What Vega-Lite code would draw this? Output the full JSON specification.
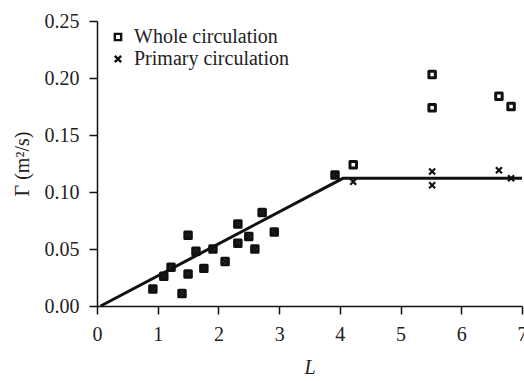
{
  "$schema": "https://vega.github.io/schema/vega-lite/v6.json",
  "autosize": "none",
  "width": 425,
  "height": 285,
  "padding": {"left": 97, "top": 21, "right": 2, "bottom": 75},
  "background": "white",
  "config": {
    "view": {"stroke": null},
    "font": "Liberation Serif",
    "axis": {
      "domainColor": "#111",
      "domainWidth": 1.5,
      "tickColor": "#111",
      "tickWidth": 1.5,
      "tickSize": 8,
      "grid": false,
      "labelFont": "Liberation Serif",
      "labelFontSize": 20,
      "labelColor": "#222",
      "labelOverlap": false,
      "labelFlush": false,
      "titleFont": "Liberation Serif",
      "titleFontSize": 20,
      "titleColor": "#222",
      "titleFontWeight": "normal"
    }
  },
  "datasets": {
    "points": [
      {"L": 0.92, "G": 0.015, "series": "Whole circulation"},
      {"L": 1.10, "G": 0.026, "series": "Whole circulation"},
      {"L": 1.22, "G": 0.034, "series": "Whole circulation"},
      {"L": 1.40, "G": 0.011, "series": "Whole circulation"},
      {"L": 1.50, "G": 0.062, "series": "Whole circulation"},
      {"L": 1.50, "G": 0.028, "series": "Whole circulation"},
      {"L": 1.63, "G": 0.048, "series": "Whole circulation"},
      {"L": 1.76, "G": 0.033, "series": "Whole circulation"},
      {"L": 1.91, "G": 0.050, "series": "Whole circulation"},
      {"L": 2.11, "G": 0.039, "series": "Whole circulation"},
      {"L": 2.32, "G": 0.072, "series": "Whole circulation"},
      {"L": 2.32, "G": 0.055, "series": "Whole circulation"},
      {"L": 2.50, "G": 0.061, "series": "Whole circulation"},
      {"L": 2.60, "G": 0.050, "series": "Whole circulation"},
      {"L": 2.72, "G": 0.082, "series": "Whole circulation"},
      {"L": 2.92, "G": 0.065, "series": "Whole circulation"},
      {"L": 3.92, "G": 0.115, "series": "Whole circulation"},
      {"L": 4.22, "G": 0.124, "series": "Whole circulation"},
      {"L": 5.52, "G": 0.203, "series": "Whole circulation"},
      {"L": 5.52, "G": 0.174, "series": "Whole circulation"},
      {"L": 6.62, "G": 0.184, "series": "Whole circulation"},
      {"L": 6.82, "G": 0.175, "series": "Whole circulation"},
      {"L": 0.92, "G": 0.015, "series": "Primary circulation"},
      {"L": 1.10, "G": 0.026, "series": "Primary circulation"},
      {"L": 1.22, "G": 0.034, "series": "Primary circulation"},
      {"L": 1.40, "G": 0.011, "series": "Primary circulation"},
      {"L": 1.50, "G": 0.062, "series": "Primary circulation"},
      {"L": 1.50, "G": 0.028, "series": "Primary circulation"},
      {"L": 1.63, "G": 0.048, "series": "Primary circulation"},
      {"L": 1.76, "G": 0.033, "series": "Primary circulation"},
      {"L": 1.91, "G": 0.050, "series": "Primary circulation"},
      {"L": 2.11, "G": 0.039, "series": "Primary circulation"},
      {"L": 2.32, "G": 0.072, "series": "Primary circulation"},
      {"L": 2.32, "G": 0.055, "series": "Primary circulation"},
      {"L": 2.50, "G": 0.061, "series": "Primary circulation"},
      {"L": 2.60, "G": 0.050, "series": "Primary circulation"},
      {"L": 2.72, "G": 0.082, "series": "Primary circulation"},
      {"L": 2.92, "G": 0.065, "series": "Primary circulation"},
      {"L": 3.92, "G": 0.115, "series": "Primary circulation"},
      {"L": 4.22, "G": 0.109, "series": "Primary circulation"},
      {"L": 5.52, "G": 0.118, "series": "Primary circulation"},
      {"L": 5.52, "G": 0.106, "series": "Primary circulation"},
      {"L": 6.62, "G": 0.119, "series": "Primary circulation"},
      {"L": 6.82, "G": 0.112, "series": "Primary circulation"}
    ],
    "fit": [
      {"L": 0.06, "G": 0.0},
      {"L": 4.05, "G": 0.112},
      {"L": 7.0, "G": 0.112}
    ]
  },
  "layer": [
    {
      "data": {"name": "fit"},
      "mark": {"type": "line", "color": "#111", "strokeWidth": 3},
      "encoding": {
        "x": {"field": "L", "type": "quantitative"},
        "y": {"field": "G", "type": "quantitative"}
      }
    },
    {
      "data": {"name": "points"},
      "transform": [{"filter": "datum.series === 'Whole circulation'"}],
      "mark": {"type": "point", "filled": false, "strokeWidth": 3, "size": 42, "strokeJoin": "round", "opacity": 1},
      "encoding": {
        "x": {"field": "L", "type": "quantitative"},
        "y": {"field": "G", "type": "quantitative"},
        "shape": {"field": "series", "type": "nominal"},
        "color": {"value": "#111"}
      }
    },
    {
      "data": {"name": "points"},
      "transform": [{"filter": "datum.series === 'Primary circulation'"}],
      "mark": {"type": "point", "filled": false, "strokeWidth": 2.2, "size": 36, "opacity": 1},
      "encoding": {
        "x": {
          "field": "L", "type": "quantitative",
          "scale": {"domain": [0, 7], "nice": false},
          "axis": {"title": "L", "titleFontStyle": "italic", "values": [0,1,2,3,4,5,6,7], "format": "d", "labelPadding": 10, "titlePadding": 13}
        },
        "y": {
          "field": "G", "type": "quantitative",
          "scale": {"domain": [0, 0.25], "nice": false},
          "axis": {"title": "Γ (m²/s)", "values": [0, 0.05, 0.1, 0.15, 0.2, 0.25], "format": ".2f", "labelPadding": 10, "titlePadding": 12}
        },
        "shape": {
          "field": "series", "type": "nominal",
          "scale": {
            "domain": ["Whole circulation", "Primary circulation"],
            "range": ["square", "M-1,-1L1,1M-1,1L1,-1"]
          },
          "legend": {
            "orient": "none",
            "legendX": 11,
            "legendY": 6,
            "title": null,
            "labelFont": "Liberation Serif",
            "labelFontSize": 20,
            "labelColor": "#222",
            "symbolStrokeColor": "#111",
            "symbolStrokeWidth": 2.4,
            "symbolSize": 40,
            "symbolFillColor": "transparent",
            "rowPadding": 2,
            "labelOffset": 6
          }
        },
        "color": {"value": "#111"}
      }
    }
  ]
}
